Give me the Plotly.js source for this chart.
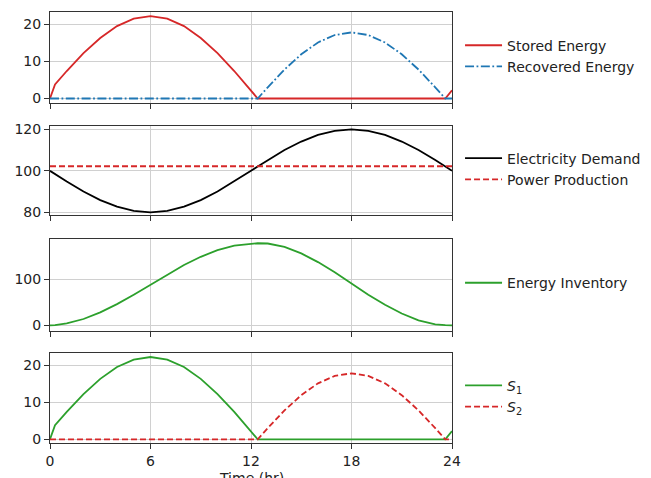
<!DOCTYPE html>
<html>
<head>
<meta charset="utf-8">
<script src="https://cdn.plot.ly/plotly-3.0.1.min.js"></script>
<style>html,body{margin:0;padding:0;background:#fff;}#chart{width:651px;height:478px;}</style>
</head>
<body>
<div id="chart"></div>
<script>
// Time grid (hours)
const time = [0, 0.3, 1, 2, 3, 4, 5, 6, 7, 8, 9, 10, 11, 12, 12.4, 13, 14, 15, 16, 17, 18, 19, 20, 21, 22, 23, 23.6, 24];
// Panel 1 / Panel 4 series
const storedEnergy = [0, 3.8, 7.4, 12.2, 16.3, 19.5, 21.5, 22.2, 21.5, 19.5, 16.3, 12.2, 7.4, 2.2, 0, 0, 0, 0, 0, 0, 0, 0, 0, 0, 0, 0, 0, 2.2];
const recoveredEnergy = [0, 0, 0, 0, 0, 0, 0, 0, 0, 0, 0, 0, 0, 0, 0, 3.0, 7.8, 11.9, 15.1, 17.1, 17.8, 17.1, 15.1, 11.9, 7.8, 3.0, 0, 0];
// Panel 2 series
const electricityDemand = [100, 98.4, 94.8, 90, 85.9, 82.7, 80.7, 80, 80.7, 82.7, 85.9, 90, 94.8, 100, 102.1, 105.2, 110, 114.1, 117.3, 119.3, 120, 119.3, 117.3, 114.1, 110, 105.2, 102.1, 100];
const prodTime = [0, 24];
const powerProduction = [102.2, 102.2];
// Panel 3 series
const energyInventory = [0, 0.6, 4.5, 14, 28.5, 46.5, 67, 89, 111, 131.5, 149.5, 164, 174, 178.5, 179, 178.5, 171, 157, 138, 116, 91, 67, 45, 26, 11, 2.5, 0.5, 0.3];
// Ticks
const xTicks = [0, 6, 12, 18, 24];
const yTicks1 = [0, 10, 20];
const yTicks2 = [80, 100, 120];
const yTicks3 = [0, 100];
const yTicks4 = [0, 10, 20];
const xTitle = 'Time (hr)';

const RED = '#d62728', BLUE = '#1f77b4', GREEN = '#2ca02c', BLACK = '#000000';
const FONT = 'DejaVu Sans, sans-serif';

const traces = [
  {x: time, y: storedEnergy, name: 'Stored Energy', mode: 'lines', line: {color: RED, width: 1.8}, xaxis: 'x', yaxis: 'y', legend: 'legend'},
  {x: time, y: recoveredEnergy, name: 'Recovered Energy', mode: 'lines', line: {color: BLUE, width: 1.8, dash: '9px,2.5px,1.8px,2.5px'}, xaxis: 'x', yaxis: 'y', legend: 'legend'},
  {x: time, y: electricityDemand, name: 'Electricity Demand', mode: 'lines', line: {color: BLACK, width: 1.8}, xaxis: 'x2', yaxis: 'y2', legend: 'legend2'},
  {x: prodTime, y: powerProduction, name: 'Power Production', mode: 'lines', line: {color: RED, width: 1.8, dash: '6px,3px'}, xaxis: 'x2', yaxis: 'y2', legend: 'legend2'},
  {x: time, y: energyInventory, name: 'Energy Inventory', mode: 'lines', line: {color: GREEN, width: 1.8}, xaxis: 'x3', yaxis: 'y3', legend: 'legend3'},
  {x: time, y: storedEnergy, name: '<i>S</i><sub>1</sub>', mode: 'lines', line: {color: GREEN, width: 1.8}, xaxis: 'x4', yaxis: 'y4', legend: 'legend4'},
  {x: time, y: recoveredEnergy, name: '<i>S</i><sub>2</sub>', mode: 'lines', line: {color: RED, width: 1.8, dash: '6px,3px'}, xaxis: 'x4', yaxis: 'y4', legend: 'legend4'}
];

function xax(anchor, labels) {
  return {anchor: anchor, domain: [0, 1], range: [0, 24], tickvals: xTicks, showticklabels: labels,
    showgrid: true, gridcolor: '#d0d0d0', gridwidth: 1, zeroline: false, showline: true, mirror: true,
    linecolor: '#333', linewidth: 1, ticks: 'outside', ticklen: 5, tickcolor: '#333', tickfont: {size: 14, color: '#222'}};
}
function yax(anchor, domain, range, ticks) {
  return {anchor: anchor, domain: domain, range: range, tickvals: ticks,
    showgrid: true, gridcolor: '#d0d0d0', gridwidth: 1, zeroline: false, showline: true, mirror: true,
    linecolor: '#333', linewidth: 1, ticks: 'outside', ticklen: 5, tickcolor: '#333', tickfont: {size: 14, color: '#222'}};
}
function leg(y) {
  return {x: 1.02, xanchor: 'left', y: y, yanchor: 'top', bgcolor: 'rgba(0,0,0,0)', borderwidth: 0,
    itemwidth: 37, font: {family: FONT, size: 14, color: '#222'}, tracegroupgap: 0};
}

const layout = {
  width: 651, height: 478,
  margin: {l: 50, r: 199, t: 12, b: 35, autoexpand: false},
  paper_bgcolor: '#ffffff', plot_bgcolor: '#ffffff',
  font: {family: FONT, size: 14, color: '#222'},
  showlegend: true,
  xaxis: xax('y', false),
  xaxis2: xax('y2', false),
  xaxis3: xax('y3', false),
  xaxis4: xax('y4', true),
  yaxis: yax('x', [0.789, 1], [-1.2, 23.3], yTicks1),
  yaxis2: yax('x2', [0.529, 0.7355], [78.7, 121.6], yTicks2),
  yaxis3: yax('x3', [0.260, 0.473], [-12, 188], yTicks3),
  yaxis4: yax('x4', [0, 0.209], [-1.0, 23.3], yTicks4),
  legend: leg(0.959),
  legend2: leg(0.697),
  legend3: leg(0.408),
  legend4: leg(0.170),
  annotations: [
    {text: xTitle, xref: 'paper', yref: 'paper', x: 0.5, y: -0.081, xanchor: 'center', yanchor: 'middle',
      showarrow: false, font: {family: FONT, size: 14, color: '#222'}}
  ]
};

Plotly.newPlot('chart', traces, layout, {displayModeBar: false, staticPlot: true});
</script>
</body>
</html>
